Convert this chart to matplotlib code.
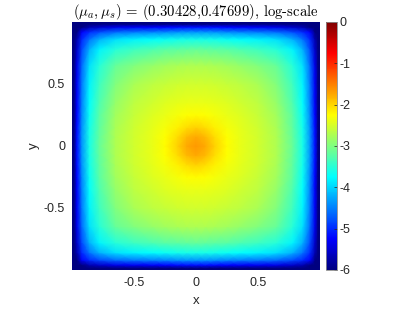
import numpy as np
import matplotlib
matplotlib.use("Agg")
import matplotlib.pyplot as plt
from matplotlib.colors import LinearSegmentedColormap

# grid coordinates (one quarter, from the edge to the centre), non-uniform
coords = [-1.0, -0.985, -0.96, -0.92, -0.86, -0.78, -0.65, -0.5, -0.35, -0.25, -0.15, -0.075, 0.0]

quarter = [
    [-11.76, -10.76, -9.91, -9.11, -8.36, -7.91, -7.48, -7.26, -7.14, -7.08, -7.04, -7.02, -7.01],
    [-10.76, -9.76, -8.91, -8.11, -7.36, -6.91, -6.48, -6.26, -6.14, -6.08, -6.04, -6.02, -6.01],
    [-9.91, -8.91, -6.56, -6.06, -5.71, -5.56, -5.38, -5.31, -5.29, -5.23, -5.19, -5.17, -5.16],
    [-9.11, -8.11, -6.06, -5.26, -5.01, -4.81, -4.63, -4.53, -4.49, -4.43, -4.39, -4.37, -4.36],
    [-8.36, -7.36, -5.71, -5.01, -4.56, -4.21, -3.93, -3.81, -3.74, -3.68, -3.64, -3.62, -3.61],
    [-7.91, -6.91, -5.56, -4.81, -4.21, -3.81, -3.53, -3.38, -3.29, -3.23, -3.19, -3.17, -3.16],
    [-7.48, -6.48, -5.38, -4.63, -3.93, -3.53, -3.15, -2.98, -2.86, -2.80, -2.76, -2.74, -2.73],
    [-7.26, -6.26, -5.31, -4.53, -3.81, -3.38, -2.98, -2.76, -2.64, -2.58, -2.54, -2.52, -2.51],
    [-7.14, -6.14, -5.29, -4.49, -3.74, -3.29, -2.86, -2.64, -2.52, -2.46, -2.41, -2.38, -2.37],
    [-7.08, -6.08, -5.23, -4.43, -3.68, -3.23, -2.80, -2.58, -2.46, -2.38, -2.31, -2.26, -2.24],
    [-7.04, -6.04, -5.19, -4.39, -3.64, -3.19, -2.76, -2.54, -2.41, -2.31, -2.17, -2.05, -1.98],
    [-7.02, -6.02, -5.17, -4.37, -3.62, -3.17, -2.74, -2.52, -2.38, -2.26, -2.05, -1.83, -1.74],
    [-7.01, -6.01, -5.16, -4.36, -3.61, -3.16, -2.73, -2.51, -2.37, -2.24, -1.98, -1.74, -1.65],
]

xticks = [-0.5, 0, 0.5]
xticklabels = ["-0.5", "0", "0.5"]
cbar_ticks = [-6, -5, -4, -3, -2, -1, 0]
cbar_labels = ["-6", "-5", "-4", "-3", "-2", "-1", "0"]
title = r"$(\mu_a,\mu_s)$ = (0.30428,0.47699), log-scale"

# MATLAB-style jet
jet_m = LinearSegmentedColormap("jet_m", {
    "red": [(0, 0, 0), (3/8, 0, 0), (5/8, 1, 1), (7/8, 1, 1), (1, 0.5, 0.5)],
    "green": [(0, 0, 0), (1/8, 0, 0), (3/8, 1, 1), (5/8, 1, 1), (7/8, 0, 0), (1, 0, 0)],
    "blue": [(0, 0.5, 0.5), (1/8, 1, 1), (3/8, 1, 1), (5/8, 0, 0), (1, 0, 0)],
}, N=256)

plt.rcParams["font.family"] = ["Liberation Sans", "DejaVu Sans"]
plt.rcParams["axes.unicode_minus"] = False
plt.rcParams["mathtext.fontset"] = "cm"

c = np.array(coords)
xs = np.concatenate([c, -c[-2::-1]])
q = np.array(quarter)
rows = np.vstack([q, q[-2::-1]])
field = np.hstack([rows, rows[:, -2::-1]])

W, H = 412, 309
fig = plt.figure(figsize=(W / 100, H / 100), dpi=100)
ax = fig.add_axes([72 / W, 39 / H, 248 / W, 248 / H])
mesh = ax.pcolormesh(xs, xs, field, shading="gouraud", cmap=jet_m, vmin=-6, vmax=0)
ax.set_xlim(-1, 1)
ax.set_ylim(-1, 1)
ax.set_xticks(xticks)
ax.set_xticklabels(xticklabels)
ax.set_yticks(xticks)
ax.set_yticklabels(xticklabels)
ax.tick_params(length=0, pad=5, labelsize=9, colors="#262626")
for s in ax.spines.values():
    s.set_visible(False)
ax.set_xlabel("x", fontsize=9.5, color="#262626", labelpad=4)
ax.set_ylabel("y", fontsize=9.5, color="#262626", labelpad=3)
ax.set_title(title, fontsize=10.6, family="cmr10", pad=3)

cax = fig.add_axes([326 / W, 39 / H, 11 / W, 248 / H])
cb = fig.colorbar(mesh, cax=cax, ticks=cbar_ticks)
cb.ax.set_yticklabels(cbar_labels)
cb.outline.set_edgecolor("#8c8c8c")
cb.outline.set_linewidth(0.6)
cax.tick_params(direction="in", length=2, width=0.5, color="#262626", pad=2,
                labelsize=9, labelcolor="#262626")

fig.savefig("out.png", dpi=100)
plt.close(fig)
